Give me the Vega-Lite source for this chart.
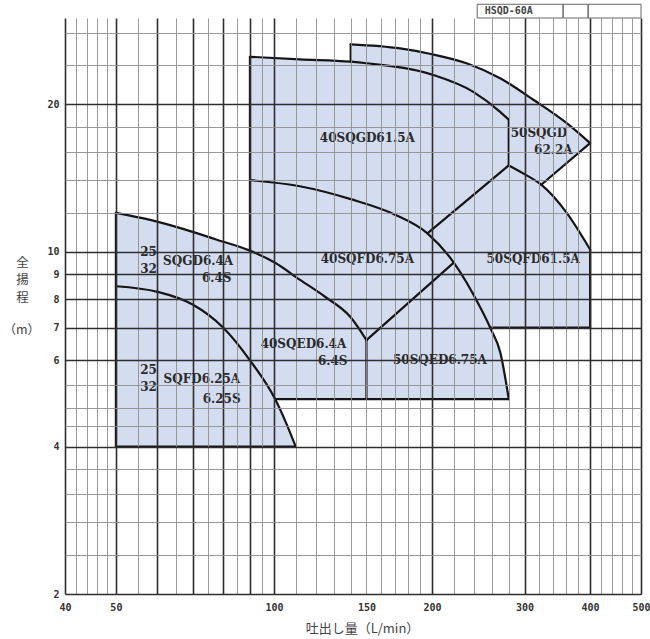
{
  "$schema": "https://vega.github.io/schema/vega-lite/v6.json",
  "width": 576,
  "height": 576,
  "autosize": {"type": "none"},
  "padding": {"left": 65, "top": 18, "right": 9, "bottom": 45},
  "background": "white",
  "config": {"view": {"stroke": null}},
  "datasets": {
    "fill": [
      {"g": "A", "x": 50, "y": 12.0, "y2": 4},
      {"g": "A", "x": 58.1, "y": 11.61, "y2": 4},
      {"g": "A", "x": 67.1, "y": 11.13, "y2": 4},
      {"g": "A", "x": 77.6, "y": 10.59, "y2": 4},
      {"g": "A", "x": 90, "y": 10.05, "y2": 4},
      {"g": "A", "x": 90.05, "y": 25.0, "y2": 4},
      {"g": "A", "x": 100.5, "y": 24.85, "y2": 4},
      {"g": "A", "x": 100.55, "y": 24.85, "y2": 5},
      {"g": "A", "x": 112, "y": 24.7, "y2": 5},
      {"g": "A", "x": 140, "y": 24.43, "y2": 5},
      {"g": "A", "x": 140.05, "y": 26.5, "y2": 5},
      {"g": "A", "x": 173.9, "y": 26.0, "y2": 5},
      {"g": "A", "x": 200, "y": 25.3, "y2": 5},
      {"g": "A", "x": 232.7, "y": 24.25, "y2": 5},
      {"g": "A", "x": 258, "y": 23.1, "y2": 5},
      {"g": "A", "x": 258.05, "y": 7.0, "y2": 5},
      {"g": "A", "x": 270, "y": 6.35, "y2": 5},
      {"g": "A", "x": 280, "y": 5.0, "y2": 5},
      {"g": "B", "x": 258, "y": 23.1, "y2": 7},
      {"g": "B", "x": 269.6, "y": 22.6, "y2": 7},
      {"g": "B", "x": 312.4, "y": 20.4, "y2": 7},
      {"g": "B", "x": 322.8, "y": 19.9, "y2": 7},
      {"g": "B", "x": 322.85, "y": 13.7, "y2": 7},
      {"g": "B", "x": 361, "y": 12.0, "y2": 7},
      {"g": "B", "x": 400, "y": 10.1, "y2": 7},
      {"g": "C", "x": 322.8, "y": 19.9, "y2": 13.7},
      {"g": "C", "x": 361, "y": 18.3, "y2": 15.2},
      {"g": "C", "x": 400, "y": 16.66, "y2": 16.66},
      {"g": "D", "x": 100.5, "y": 5.0, "y2": 4},
      {"g": "D", "x": 105, "y": 4.52, "y2": 4},
      {"g": "D", "x": 110, "y": 4.0, "y2": 4}
    ],
    "lines": [
      {"g": "A", "i": 1, "x": 50, "y": 12.0},
      {"g": "A", "i": 2, "x": 58.1, "y": 11.61},
      {"g": "A", "i": 3, "x": 67.1, "y": 11.13},
      {"g": "A", "i": 4, "x": 77.6, "y": 10.59},
      {"g": "A", "i": 5, "x": 90, "y": 10.05},
      {"g": "A", "i": 6, "x": 100.5, "y": 9.49},
      {"g": "A", "i": 7, "x": 112.1, "y": 8.76},
      {"g": "A", "i": 8, "x": 125.1, "y": 8.09},
      {"g": "A", "i": 9, "x": 139.6, "y": 7.37},
      {"g": "A", "i": 10, "x": 150, "y": 6.6},
      {"g": "B", "i": 1, "x": 50, "y": 8.5},
      {"g": "B", "i": 2, "x": 60, "y": 8.28},
      {"g": "B", "i": 3, "x": 70, "y": 7.8},
      {"g": "B", "i": 4, "x": 80, "y": 7.0},
      {"g": "B", "i": 5, "x": 90, "y": 6.0},
      {"g": "B", "i": 6, "x": 100.5, "y": 5.0},
      {"g": "B", "i": 7, "x": 105, "y": 4.52},
      {"g": "B", "i": 8, "x": 110, "y": 4.0},
      {"g": "bot4", "i": 1, "x": 50, "y": 4},
      {"g": "bot4", "i": 2, "x": 110, "y": 4},
      {"g": "left50", "i": 1, "x": 50, "y": 4},
      {"g": "left50", "i": 2, "x": 50, "y": 12.0},
      {"g": "left90", "i": 1, "x": 90, "y": 10.05},
      {"g": "left90", "i": 2, "x": 90, "y": 25.0},
      {"g": "G", "i": 1, "x": 90, "y": 25.0},
      {"g": "G", "i": 2, "x": 112, "y": 24.7},
      {"g": "G", "i": 3, "x": 140, "y": 24.43},
      {"g": "G", "i": 4, "x": 150, "y": 24.25},
      {"g": "G", "i": 5, "x": 201, "y": 22.95},
      {"g": "G", "i": 6, "x": 239.6, "y": 21.2},
      {"g": "G", "i": 7, "x": 269.6, "y": 19.3},
      {"g": "G", "i": 8, "x": 280, "y": 18.6},
      {"g": "v140", "i": 1, "x": 140, "y": 24.43},
      {"g": "v140", "i": 2, "x": 140, "y": 26.5},
      {"g": "D", "i": 1, "x": 140, "y": 26.5},
      {"g": "D", "i": 2, "x": 173.9, "y": 26.0},
      {"g": "D", "i": 3, "x": 200, "y": 25.3},
      {"g": "D", "i": 4, "x": 232.7, "y": 24.25},
      {"g": "D", "i": 5, "x": 269.6, "y": 22.6},
      {"g": "D", "i": 6, "x": 312.4, "y": 20.4},
      {"g": "D", "i": 7, "x": 361, "y": 18.3},
      {"g": "D", "i": 8, "x": 400, "y": 16.66},
      {"g": "v280", "i": 1, "x": 280, "y": 18.6},
      {"g": "v280", "i": 2, "x": 280, "y": 15.0},
      {"g": "E", "i": 1, "x": 280, "y": 15.0},
      {"g": "E", "i": 2, "x": 300, "y": 14.4},
      {"g": "E", "i": 3, "x": 322.8, "y": 13.7},
      {"g": "E", "i": 4, "x": 361, "y": 12.0},
      {"g": "E", "i": 5, "x": 400, "y": 10.1},
      {"g": "notch", "i": 1, "x": 322.8, "y": 13.7},
      {"g": "notch", "i": 2, "x": 400, "y": 16.66},
      {"g": "r400", "i": 1, "x": 400, "y": 10.1},
      {"g": "r400", "i": 2, "x": 400, "y": 7},
      {"g": "bot7", "i": 1, "x": 258, "y": 7},
      {"g": "bot7", "i": 2, "x": 400, "y": 7},
      {"g": "F", "i": 1, "x": 90, "y": 14.0},
      {"g": "F", "i": 2, "x": 112, "y": 13.6},
      {"g": "F", "i": 3, "x": 140, "y": 12.8},
      {"g": "F", "i": 4, "x": 170, "y": 11.9},
      {"g": "F", "i": 5, "x": 196, "y": 10.9},
      {"g": "F", "i": 6, "x": 220, "y": 9.5},
      {"g": "F", "i": 7, "x": 247, "y": 7.7},
      {"g": "F", "i": 8, "x": 258, "y": 7.0},
      {"g": "F", "i": 9, "x": 270, "y": 6.2},
      {"g": "F", "i": 10, "x": 280, "y": 5.0},
      {"g": "Vup", "i": 1, "x": 196, "y": 10.9},
      {"g": "Vup", "i": 2, "x": 280, "y": 15.0},
      {"g": "Vlow", "i": 1, "x": 150, "y": 6.6},
      {"g": "Vlow", "i": 2, "x": 220, "y": 9.5},
      {"g": "v150", "i": 1, "x": 150, "y": 6.6},
      {"g": "v150", "i": 2, "x": 150, "y": 5},
      {"g": "bot5", "i": 1, "x": 100.5, "y": 5},
      {"g": "bot5", "i": 2, "x": 280, "y": 5}
    ],
    "labels": [
      {"t": "40SQGD61.5A", "x": 150.6, "y": 17.06},
      {"t": "50SQGD", "x": 319.6, "y": 17.45},
      {"t": "62.2A", "x": 340.5, "y": 16.1},
      {"t": "40SQFD6.75A", "x": 150.6, "y": 9.66},
      {"t": "50SQFD61.5A", "x": 311.6, "y": 9.66},
      {"t": "25", "x": 57.7, "y": 10.0},
      {"t": "32", "x": 57.7, "y": 9.2},
      {"t": "SQGD6.4A", "x": 71.7, "y": 9.57},
      {"t": "6.4S", "x": 77.8, "y": 8.85},
      {"t": "25", "x": 57.7, "y": 5.73},
      {"t": "32", "x": 57.7, "y": 5.29},
      {"t": "SQFD6.25A", "x": 72.9, "y": 5.5},
      {"t": "6.25S", "x": 79.5, "y": 5.0},
      {"t": "40SQED6.4A", "x": 113.8, "y": 6.47},
      {"t": "6.4S", "x": 129.4, "y": 5.97},
      {"t": "50SQED6.75A", "x": 207, "y": 6.0}
    ],
    "box": [
      {"x": 243.8, "x2": 355.3, "y": 30, "y2": 32},
      {"x": 355.3, "x2": 396.5, "y": 30, "y2": 32},
      {"x": 396.5, "x2": 500, "y": 30, "y2": 32}
    ],
    "boxtext": [
      {"t": "HSQD-60A", "x": 280, "y": 31.0}
    ],
    "unit": [
      {"t": "（m）", "x": 33.1, "y": 6.93}
    ]
  },
  "encoding": {
    "x": {
      "field": "x",
      "type": "quantitative",
      "scale": {"type": "log", "domain": [40, 500], "nice": false, "zero": false},
      "axis": {
        "values": [40, 42, 44, 46, 48, 50, 55, 60, 65, 70, 75, 80, 85, 90, 95, 100, 110, 120, 130, 140, 150, 160, 170, 180, 190, 200, 220, 240, 260, 280, 300, 320, 340, 360, 380, 400, 420, 440, 460, 480, 500],
        "title": "吐出し量（L/min）",
        "format": "d",
        "labelExpr": "indexof([40,50,100,150,200,300,400,500], datum.value) >= 0 ? datum.label : ''",
        "labelFont": "DejaVu Sans Mono",
        "labelFontWeight": "bold",
        "labelFontSize": 10,
        "labelColor": "#333333",
        "labelPadding": 8,
        "labelFlush": false,
        "labelOverlap": false,
        "labelBound": false,
        "ticks": false,
        "tickSize": 0,
        "domain": false,
        "grid": true,
        "gridOpacity": 1,
        "gridColor": {"condition": {"test": "indexof([40,50,60,70,80,90,100,200,300,400,500], datum.value) >= 0", "value": "#2e2e2e"}, "value": "#8f8f8f"},
        "gridWidth": {"condition": {"test": "indexof([40,50,60,70,80,90,100,200,300,400,500], datum.value) >= 0", "value": 1.6}, "value": 0.9},
        "zindex": 1,
        "titleFont": "Noto Sans CJK JP",
        "titleFontSize": 13,
        "titleFontWeight": "normal",
        "titleColor": "#444444",
        "titleX": 297,
        "titleY": 34,
        "titleAlign": "center",
        "titleBaseline": "middle"
      }
    },
    "y": {
      "field": "y",
      "type": "quantitative",
      "scale": {"type": "log", "domain": [2, 30], "nice": false, "zero": false},
      "axis": {
        "values": [2, 2.2, 2.4, 2.6, 2.8, 3, 3.2, 3.4, 3.6, 3.8, 4, 4.2, 4.4, 4.6, 4.8, 5, 5.333, 5.667, 6, 6.5, 7, 7.5, 8, 8.5, 9, 9.5, 10, 11, 12, 13, 14, 15, 16, 17, 18, 19, 20, 22, 24, 26, 28, 30],
        "title": ["全", "揚", "程"],
        "format": "d",
        "labelExpr": "indexof([2,3,4,5,6,7,8,9,10,15,20,30], datum.value) >= 0 ? datum.label : ''",
        "labelFont": "DejaVu Sans Mono",
        "labelFontWeight": "bold",
        "labelFontSize": 10,
        "labelColor": "#333333",
        "labelPadding": 6,
        "labelFlush": false,
        "labelOverlap": false,
        "labelBound": false,
        "ticks": false,
        "tickSize": 0,
        "domain": false,
        "grid": true,
        "gridOpacity": 1,
        "gridColor": {"condition": {"test": "indexof([2,3,4,5,6,7,8,9,10,20,30], datum.value) >= 0", "value": "#2e2e2e"}, "value": "#8f8f8f"},
        "gridWidth": {"condition": {"test": "indexof([2,3,4,5,6,7,8,9,10,20,30], datum.value) >= 0", "value": 1.6}, "value": 0.9},
        "zindex": 1,
        "titleFont": "Noto Sans CJK JP",
        "titleFontSize": 12.5,
        "titleFontWeight": "normal",
        "titleColor": "#444444",
        "titleAngle": 0,
        "titleX": -43,
        "titleY": 238,
        "titleAlign": "center",
        "titleBaseline": "top",
        "titleLineHeight": 17.5
      }
    }
  },
  "layer": [
    {
      "data": {"name": "fill"},
      "mark": {"type": "area", "fill": "#d4dcf0", "stroke": "#d4dcf0", "strokeWidth": 0.6, "opacity": 1, "interpolate": "linear"},
      "encoding": {
        "y2": {"field": "y2"},
        "detail": {"field": "g", "type": "nominal"}
      }
    },
    {
      "data": {"name": "lines"},
      "mark": {"type": "line", "color": "#151515", "strokeWidth": 2.2, "strokeJoin": "round", "strokeCap": "round", "interpolate": "monotone"},
      "encoding": {
        "detail": {"field": "g", "type": "nominal"},
        "order": {"field": "i", "type": "quantitative"}
      }
    },
    {
      "data": {"name": "box"},
      "mark": {"type": "rect", "fill": "white", "fillOpacity": 0, "stroke": "#666666", "strokeWidth": 1},
      "encoding": {
        "x2": {"field": "x2"},
        "y2": {"field": "y2"}
      }
    },
    {
      "data": {"name": "boxtext"},
      "mark": {"type": "text", "font": "DejaVu Sans Mono", "fontWeight": "bold", "fontSize": 10, "color": "#444444", "align": "center", "baseline": "middle"},
      "encoding": {"text": {"field": "t"}}
    },
    {
      "data": {"name": "unit"},
      "mark": {"type": "text", "font": "Noto Sans CJK JP", "fontSize": 12.5, "color": "#444444", "align": "center", "baseline": "middle"},
      "encoding": {"text": {"field": "t"}}
    },
    {
      "data": {"name": "labels"},
      "mark": {"type": "text", "font": "DejaVu Serif", "fontWeight": "bold", "fontSize": 12, "color": "#2a2a2a", "align": "center", "baseline": "middle"},
      "encoding": {"text": {"field": "t"}}
    }
  ]
}
